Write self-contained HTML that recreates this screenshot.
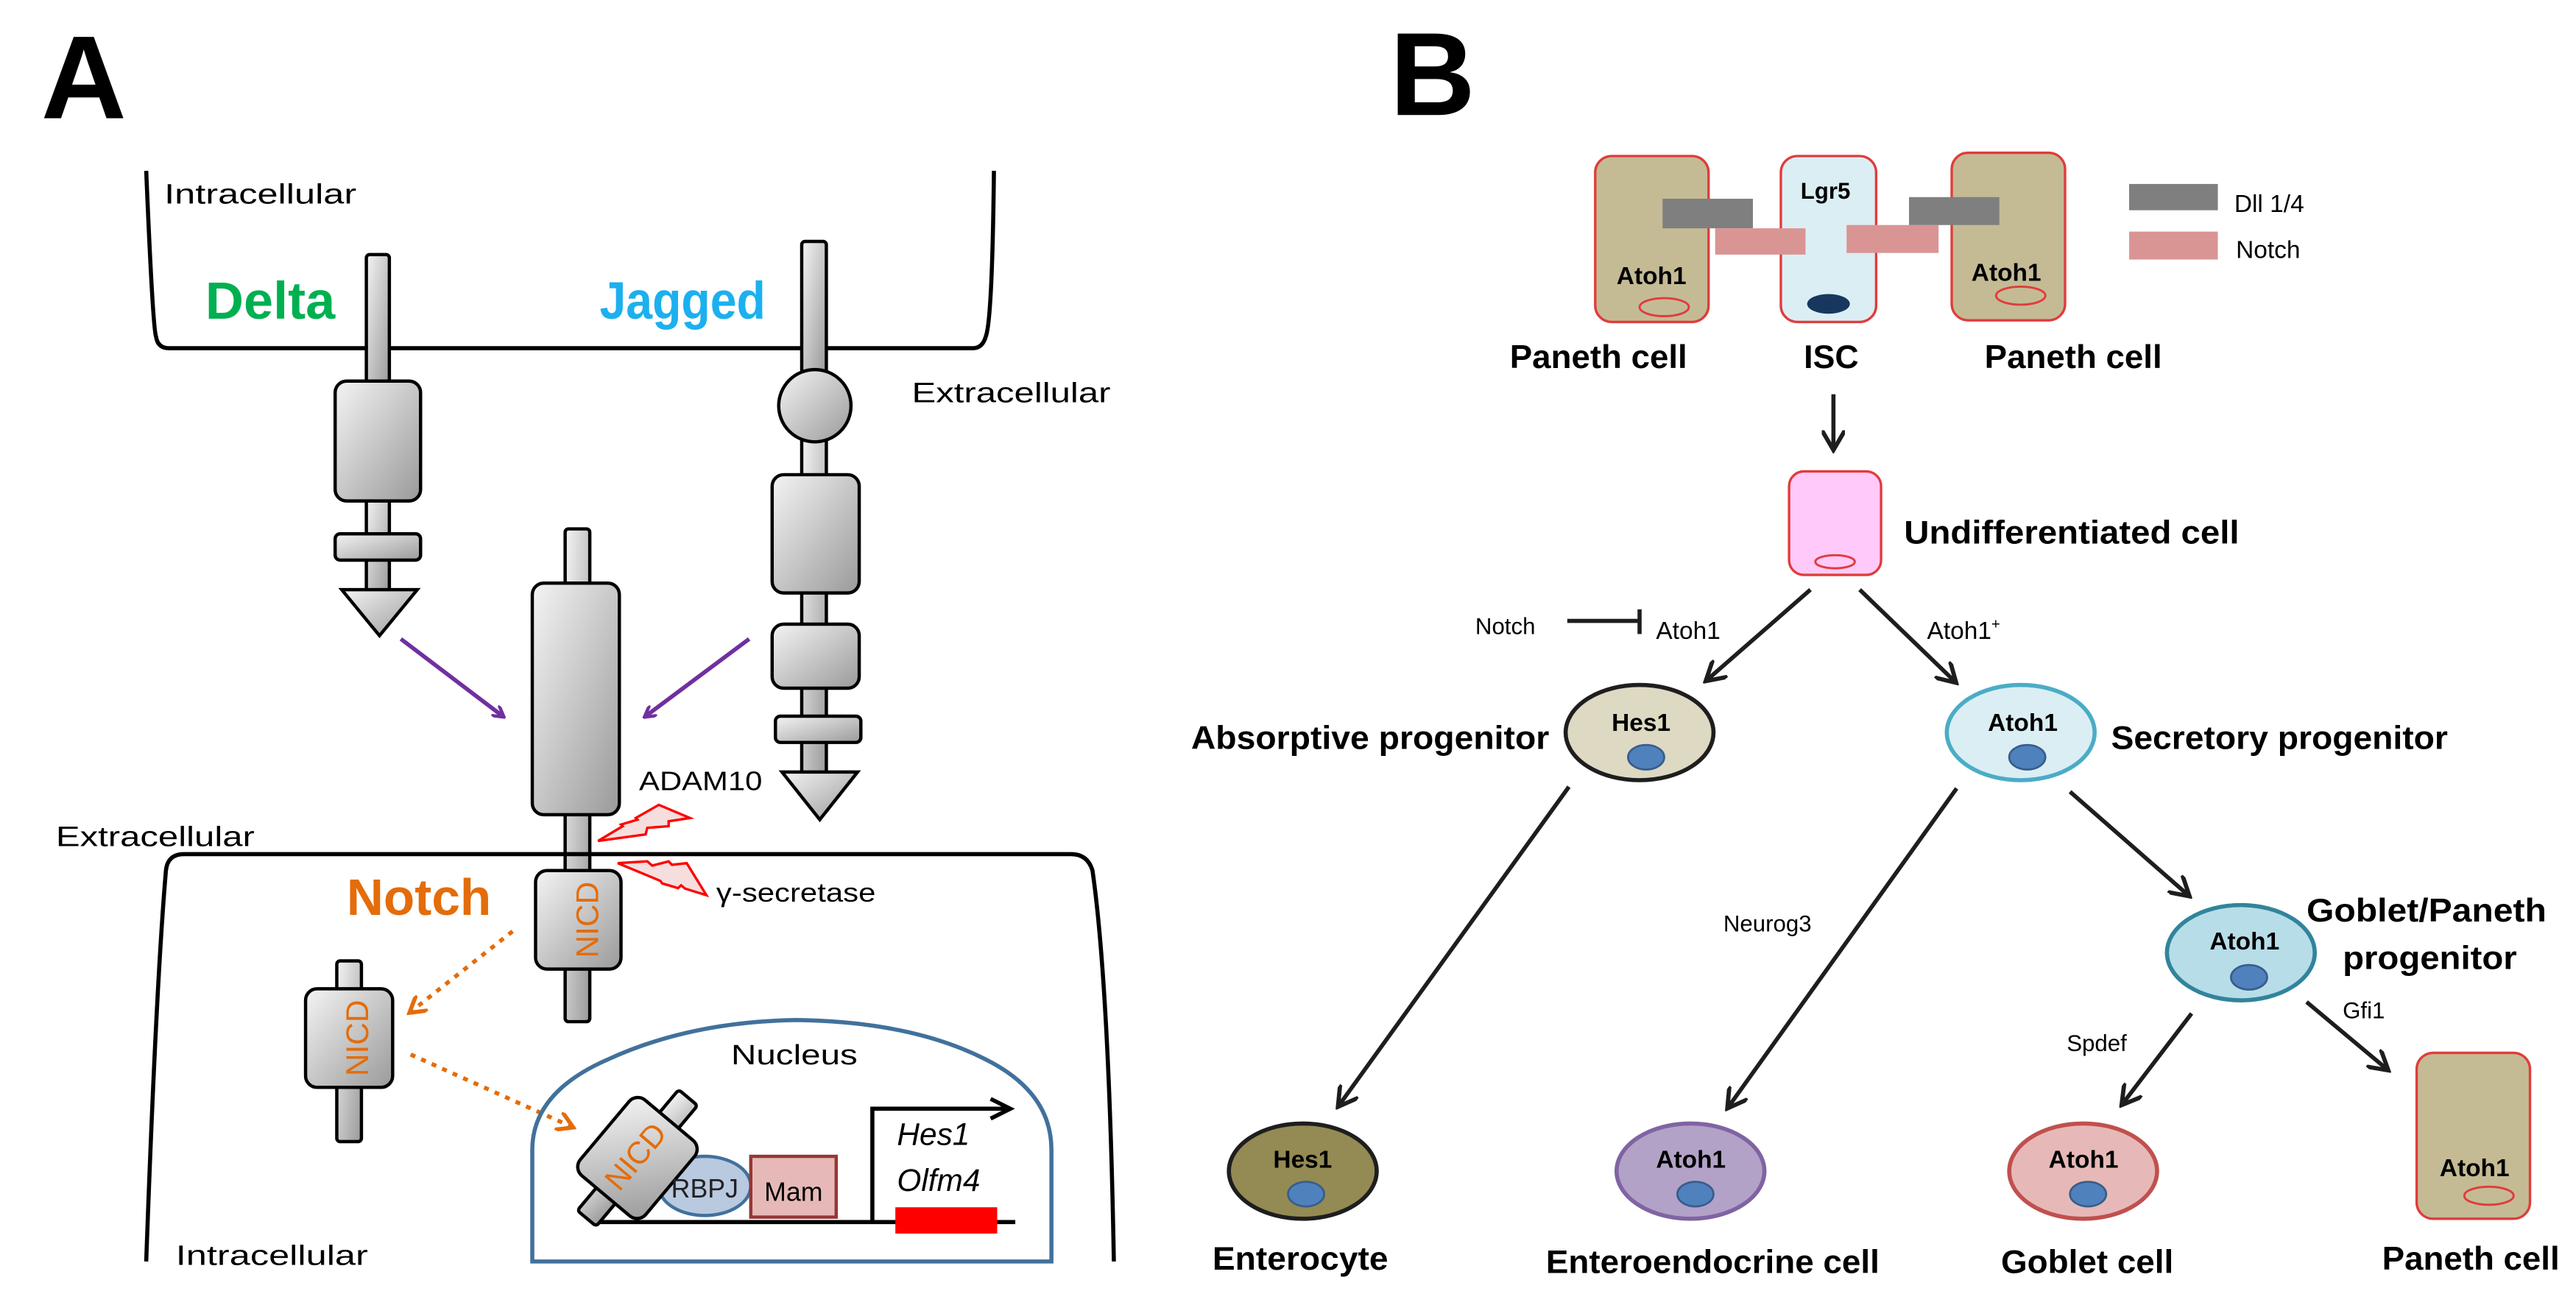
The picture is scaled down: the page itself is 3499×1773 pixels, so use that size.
<!DOCTYPE html>
<html><head><meta charset="utf-8"><style>
html,body{margin:0;padding:0;background:#fff;}
svg{display:block;}
text{font-family:"Liberation Sans",sans-serif;}
</style></head><body>
<svg width="3499" height="1773" viewBox="0 0 1568 794.5" preserveAspectRatio="none" xmlns="http://www.w3.org/2000/svg">
<defs>
<linearGradient id="g" x1="0" y1="0" x2="1" y2="1">
<stop offset="0" stop-color="#f4f4f4"/><stop offset="1" stop-color="#9a9a9a"/>
</linearGradient>
<marker id="ap" markerWidth="8" markerHeight="8" refX="6" refY="4" orient="auto" markerUnits="userSpaceOnUse"><path d="M0,0 L7,4 L0,8" fill="none" stroke="#7030a0" stroke-width="2"/></marker>
<marker id="ao" markerWidth="12" markerHeight="12" refX="9" refY="6" orient="auto" markerUnits="userSpaceOnUse"><path d="M0,0 L10,6 L0,12" fill="none" stroke="#e46c0a" stroke-width="2.5"/></marker>
<marker id="ak" markerWidth="14" markerHeight="14" refX="11" refY="7" orient="auto" markerUnits="userSpaceOnUse"><path d="M0,0 L12,7 L0,14" fill="none" stroke="#1e1e1e" stroke-width="2.6"/></marker>
</defs>

<!-- Panel A -->
<text x="25" y="72" font-size="72" font-weight="bold">A</text>
<path d="M89,104 Q93,200 95,205 Q96,212 103,212 L592,212 Q598,212 600,205 Q604,195 605,104" fill="none" stroke="#000" stroke-width="2.5"/>
<text x="100" y="124" font-size="17" textLength="117" lengthAdjust="spacingAndGlyphs">Intracellular</text>
<text x="125" y="194" font-size="32" font-weight="bold" fill="#00b050" textLength="79" lengthAdjust="spacingAndGlyphs">Delta</text>
<text x="365" y="194" font-size="32" font-weight="bold" fill="#1cb0ee" textLength="101" lengthAdjust="spacingAndGlyphs">Jagged</text>
<text x="555" y="245" font-size="17" textLength="121" lengthAdjust="spacingAndGlyphs">Extracellular</text>

<g fill="url(#g)" stroke="#000" stroke-width="2">
<rect x="223" y="155" width="14" height="80" rx="2"/>
<rect x="223" y="303" width="14" height="58" rx="2"/>
<rect x="204" y="232" width="52" height="73" rx="7"/>
<rect x="204" y="325" width="52" height="16" rx="3"/>
<polygon points="208,359 254,359 231,387"/>
<rect x="488" y="147" width="15" height="80" rx="2"/>
<rect x="488" y="265" width="15" height="210" rx="2"/>
<circle cx="496" cy="247" r="22"/>
<rect x="470" y="289" width="53" height="72" rx="7"/>
<rect x="470" y="380" width="53" height="39" rx="7"/>
<rect x="472" y="436" width="52" height="16" rx="3"/>
<polygon points="476,470 522,470 499,499"/>
<rect x="344" y="322" width="15" height="300" rx="2"/>
<rect x="324" y="355" width="53" height="141" rx="7"/>
<rect x="326" y="530" width="52" height="60" rx="7"/>
<rect x="205" y="585" width="15" height="110" rx="2"/>
<rect x="186" y="602" width="53" height="60" rx="7"/>
</g>
<text transform="translate(359,560) rotate(-90)" font-size="19" fill="#e46c0a" text-anchor="middle" dominant-baseline="middle">NICD</text>
<text transform="translate(219,632) rotate(-90)" font-size="19" fill="#e46c0a" text-anchor="middle" dominant-baseline="middle">NICD</text>

<line x1="244" y1="389" x2="306" y2="436" stroke="#7030a0" stroke-width="2.5" marker-end="url(#ap)"/>
<line x1="456" y1="389" x2="393" y2="436" stroke="#7030a0" stroke-width="2.5" marker-end="url(#ap)"/>

<text x="389" y="481" font-size="16" textLength="75" lengthAdjust="spacingAndGlyphs">ADAM10</text>
<polygon points="364,512 379,503 378,502 388,499 387,498 401,490 420,498 407,500 407,503 394,504 393,508" fill="#f6dede" stroke="#ff0000" stroke-width="1.5" stroke-linejoin="miter"/>
<polygon points="376,525.5 394,524.4 397,527 407,524.4 409,526.5 418,525.5 430,545 417,541 414.6,539 412.7,540.7 403,537.8 402,536.3" fill="#f6dede" stroke="#ff0000" stroke-width="1.5"/>
<text x="436" y="549" font-size="16" textLength="97" lengthAdjust="spacingAndGlyphs">γ-secretase</text>

<text x="34" y="515" font-size="17" textLength="121" lengthAdjust="spacingAndGlyphs">Extracellular</text>
<path d="M89,768 Q95,600 101,530 Q102,520 112,520 L652,520 Q662,520 665,530 Q675,600 678,768" fill="none" stroke="#000" stroke-width="2.5"/>
<text x="211" y="557" font-size="31" font-weight="bold" fill="#e46c0a" textLength="88" lengthAdjust="spacingAndGlyphs">Notch</text>

<line x1="312" y1="567" x2="250" y2="616" stroke="#e46c0a" stroke-width="2.5" stroke-dasharray="3,4" marker-end="url(#ao)"/>
<line x1="250" y1="642" x2="348" y2="686" stroke="#e46c0a" stroke-width="2.5" stroke-dasharray="3,4" marker-end="url(#ao)"/>

<path d="M324,768 L324,700 Q324,665 370,645 Q420,622 485,621 Q555,622 600,645 Q640,665 640,700 L640,768 Z" fill="none" stroke="#41719c" stroke-width="2.5"/>
<text x="445" y="648" font-size="17" textLength="77" lengthAdjust="spacingAndGlyphs">Nucleus</text>
<line x1="361" y1="744" x2="618" y2="744" stroke="#000" stroke-width="2.5"/>
<ellipse cx="429" cy="722" rx="28" ry="18" fill="#b9c9e0" stroke="#41719c" stroke-width="2"/>
<g transform="translate(388,705) rotate(40)" fill="url(#g)" stroke="#000" stroke-width="2">
<rect x="-7.5" y="-48" width="15" height="96" rx="2"/>
<rect x="-26" y="-30" width="52" height="60" rx="7"/>
</g>
<text transform="translate(388,705) rotate(-50)" font-size="19" fill="#e46c0a" text-anchor="middle" dominant-baseline="middle">NICD</text>
<text x="429" y="729" font-size="16" text-anchor="middle" fill="#222">RBPJ</text>
<rect x="457" y="704" width="52" height="37" fill="#e6b9b8" stroke="#953735" stroke-width="2"/>
<text x="483" y="731" font-size="16" text-anchor="middle">Mam</text>
<path d="M531,744 L531,675 L612,675" fill="none" stroke="#000" stroke-width="2.5"/>
<path d="M603,669 L615,675 L603,681" fill="none" stroke="#000" stroke-width="2.5"/>
<text x="546" y="697" font-size="19" font-style="italic">Hes1</text>
<text x="546" y="725" font-size="19" font-style="italic">Olfm4</text>
<rect x="545" y="735" width="62" height="16" fill="#ff0000"/>
<text x="107" y="770" font-size="17" textLength="117" lengthAdjust="spacingAndGlyphs">Intracellular</text>

<!-- Panel B -->
<text x="846" y="70" font-size="72" font-weight="bold">B</text>
<rect x="971" y="95" width="69" height="101" rx="10" fill="#c4bb95" stroke="#e03c3c" stroke-width="1.5"/>
<rect x="1084" y="95" width="58" height="101" rx="10" fill="#dbeef4" stroke="#e03c3c" stroke-width="1.5"/>
<rect x="1188" y="93" width="69" height="102" rx="10" fill="#c4bb95" stroke="#e03c3c" stroke-width="1.5"/>
<rect x="1012" y="121" width="55" height="18" fill="#7f7f7f"/>
<rect x="1044" y="139" width="55" height="16" fill="#d99594"/>
<rect x="1124" y="137" width="56" height="17" fill="#d99594"/>
<rect x="1162" y="120" width="55" height="17" fill="#7f7f7f"/>
<text x="1096" y="121" font-size="14" font-weight="bold">Lgr5</text>
<ellipse cx="1113" cy="185" rx="13" ry="6" fill="#17375e"/>
<text x="984" y="173" font-size="15" font-weight="bold">Atoh1</text>
<text x="1200" y="171" font-size="15" font-weight="bold">Atoh1</text>
<ellipse cx="1013" cy="187" rx="15" ry="5.5" fill="none" stroke="#e03c3c" stroke-width="1.3"/>
<ellipse cx="1230" cy="180" rx="15" ry="5.5" fill="none" stroke="#e03c3c" stroke-width="1.3"/>
<rect x="1296" y="112" width="54" height="16" fill="#7f7f7f"/>
<text x="1360" y="129" font-size="15">Dll 1/4</text>
<rect x="1296" y="141" width="54" height="17" fill="#d99594"/>
<text x="1361" y="157" font-size="15">Notch</text>
<text x="919" y="224" font-size="20" font-weight="bold" textLength="108" lengthAdjust="spacingAndGlyphs">Paneth cell</text>
<text x="1098" y="224" font-size="20" font-weight="bold">ISC</text>
<text x="1208" y="224" font-size="20" font-weight="bold" textLength="108" lengthAdjust="spacingAndGlyphs">Paneth cell</text>

<line x1="1116" y1="240" x2="1116" y2="273" stroke="#1e1e1e" stroke-width="2.5" marker-end="url(#ak)"/>
<rect x="1089" y="287" width="56" height="63" rx="9" fill="#ffc9f9" stroke="#e03c3c" stroke-width="1.5"/>
<ellipse cx="1117" cy="342" rx="12" ry="4" fill="none" stroke="#e03c3c" stroke-width="1.3"/>
<text x="1159" y="331" font-size="20" font-weight="bold" textLength="204" lengthAdjust="spacingAndGlyphs">Undifferentiated cell</text>

<line x1="1102" y1="359" x2="1039" y2="414" stroke="#1e1e1e" stroke-width="2.5" marker-end="url(#ak)"/>
<line x1="1132" y1="359" x2="1190" y2="415" stroke="#1e1e1e" stroke-width="2.5" marker-end="url(#ak)"/>
<text x="898" y="386" font-size="14">Notch</text>
<line x1="954" y1="378" x2="998" y2="378" stroke="#1e1e1e" stroke-width="2.5"/>
<line x1="998" y1="371" x2="998" y2="386" stroke="#1e1e1e" stroke-width="2.5"/>
<text x="1008" y="389" font-size="15">Atoh1</text>
<text x="1173" y="389" font-size="15">Atoh1<tspan font-size="9" dy="-6">+</tspan></text>

<ellipse cx="998" cy="446" rx="45" ry="29" fill="#ddd9c3" stroke="#1e1e1e" stroke-width="2.5"/>
<text x="981" y="445" font-size="15" font-weight="bold">Hes1</text>
<ellipse cx="1002" cy="461" rx="11" ry="7.5" fill="#4f81bd" stroke="#385d8a" stroke-width="1.2"/>
<text x="943" y="456" font-size="20" font-weight="bold" text-anchor="end" textLength="218" lengthAdjust="spacingAndGlyphs">Absorptive progenitor</text>

<ellipse cx="1230" cy="446" rx="45" ry="29" fill="#dbeef4" stroke="#4bacc6" stroke-width="2.5"/>
<text x="1210" y="445" font-size="15" font-weight="bold">Atoh1</text>
<ellipse cx="1234" cy="461" rx="11" ry="7.5" fill="#4f81bd" stroke="#385d8a" stroke-width="1.2"/>
<text x="1285" y="456" font-size="20" font-weight="bold" textLength="205" lengthAdjust="spacingAndGlyphs">Secretory progenitor</text>

<line x1="955" y1="479" x2="815" y2="673" stroke="#1e1e1e" stroke-width="2.5" marker-end="url(#ak)"/>
<line x1="1191" y1="480" x2="1052" y2="674" stroke="#1e1e1e" stroke-width="2.5" marker-end="url(#ak)"/>
<line x1="1260" y1="482" x2="1332" y2="545" stroke="#1e1e1e" stroke-width="2.5" marker-end="url(#ak)"/>
<text x="1049" y="567" font-size="14">Neurog3</text>

<ellipse cx="1364" cy="580" rx="45" ry="29" fill="#b7dde8" stroke="#31849b" stroke-width="2.5"/>
<text x="1345" y="578" font-size="15" font-weight="bold">Atoh1</text>
<ellipse cx="1369" cy="595" rx="11" ry="7.5" fill="#4f81bd" stroke="#385d8a" stroke-width="1.2"/>
<text x="1404" y="561" font-size="20" font-weight="bold" textLength="146" lengthAdjust="spacingAndGlyphs">Goblet/Paneth</text>
<text x="1426" y="590" font-size="20" font-weight="bold" textLength="106" lengthAdjust="spacingAndGlyphs">progenitor</text>
<text x="1426" y="620" font-size="14">Gfi1</text>
<text x="1258" y="640" font-size="14">Spdef</text>
<line x1="1334" y1="617" x2="1292" y2="672" stroke="#1e1e1e" stroke-width="2.5" marker-end="url(#ak)"/>
<line x1="1404" y1="610" x2="1453" y2="651" stroke="#1e1e1e" stroke-width="2.5" marker-end="url(#ak)"/>

<ellipse cx="793" cy="713" rx="45" ry="29" fill="#948a54" stroke="#1e1e1e" stroke-width="2.5"/>
<text x="775" y="711" font-size="15" font-weight="bold">Hes1</text>
<ellipse cx="795" cy="727" rx="11" ry="7.5" fill="#4f81bd" stroke="#385d8a" stroke-width="1.2"/>
<ellipse cx="1029" cy="713" rx="45" ry="29" fill="#b3a2c7" stroke="#8064a2" stroke-width="2.5"/>
<text x="1008" y="711" font-size="15" font-weight="bold">Atoh1</text>
<ellipse cx="1032" cy="727" rx="11" ry="7.5" fill="#4f81bd" stroke="#385d8a" stroke-width="1.2"/>
<ellipse cx="1268" cy="713" rx="45" ry="29" fill="#e6b9b8" stroke="#c0504d" stroke-width="2.5"/>
<text x="1247" y="711" font-size="15" font-weight="bold">Atoh1</text>
<ellipse cx="1271" cy="727" rx="11" ry="7.5" fill="#4f81bd" stroke="#385d8a" stroke-width="1.2"/>
<rect x="1471" y="641" width="69" height="101" rx="10" fill="#c4bb95" stroke="#e03c3c" stroke-width="1.5"/>
<text x="1485" y="716" font-size="15" font-weight="bold">Atoh1</text>
<ellipse cx="1515" cy="728" rx="15" ry="5.5" fill="none" stroke="#e03c3c" stroke-width="1.3"/>

<text x="738" y="773" font-size="20" font-weight="bold" textLength="107" lengthAdjust="spacingAndGlyphs">Enterocyte</text>
<text x="941" y="775" font-size="20" font-weight="bold" textLength="203" lengthAdjust="spacingAndGlyphs">Enteroendocrine cell</text>
<text x="1218" y="775" font-size="20" font-weight="bold" textLength="105" lengthAdjust="spacingAndGlyphs">Goblet cell</text>
<text x="1450" y="773" font-size="20" font-weight="bold" textLength="108" lengthAdjust="spacingAndGlyphs">Paneth cell</text>
</svg>
</body></html>
